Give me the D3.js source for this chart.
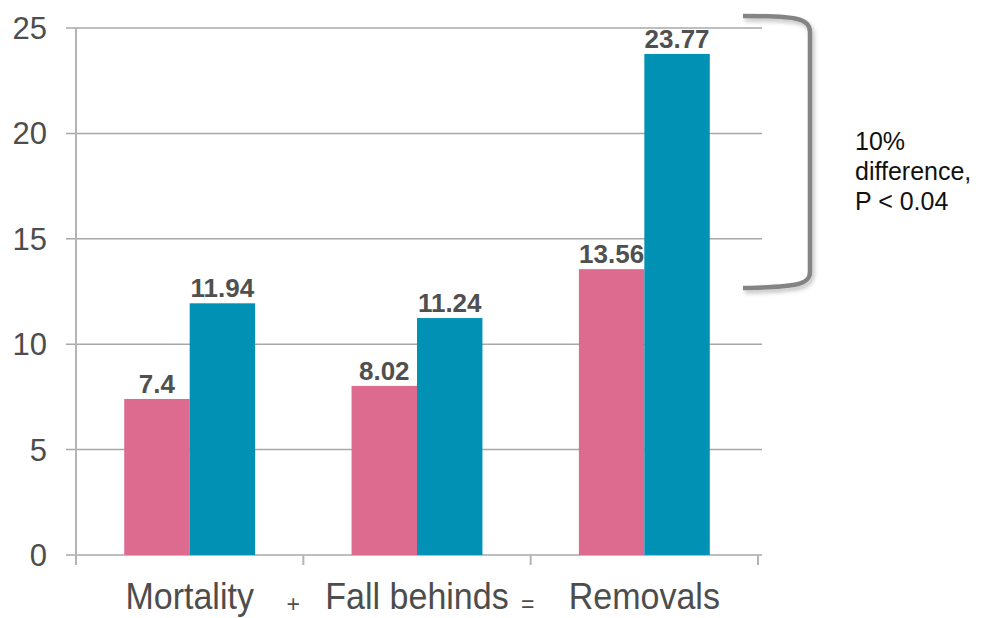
<!DOCTYPE html>
<html>
<head>
<meta charset="utf-8">
<script src="https://cdn.jsdelivr.net/npm/d3@7"></script>
<style>
  body { margin: 0; background: #fff; }
  svg { display: block; font-family: "Liberation Sans", Arial, sans-serif; }
</style>
</head>
<body>
<svg id="chart" width="982" height="618"></svg>
<script>
// data
const categories = ["Mortality", "Fall behinds", "Removals"];
const series = ["control", "treated"];
const controlValues = [7.4, 8.02, 13.56];
const treatedValues = [11.94, 11.24, 23.77];
const yTicks = [0, 5, 10, 15, 20, 25];
const joiners = ["+", "="];
const noteLines = ["10%", "difference,", "P < 0.04"];

const colors = d3.scaleOrdinal(series, ["#DD6A8F", "#0091B4"]);

const svg = d3.select("#chart");

const x0 = d3.scaleBand()
  .domain(categories)
  .range([76, 758])
  .paddingInner(0)
  .paddingOuter(0);

const x1 = d3.scaleBand()
  .domain(series)
  .range([0, x0.bandwidth()])
  .paddingInner(0)
  .paddingOuter(0.737);

const y = d3.scaleLinear()
  .domain([0, 25])
  .range([555, 28]);

// gridlines
svg.append("g")
  .selectAll("line")
  .data(yTicks)
  .enter()
  .append("line")
  .attr("x1", 66)
  .attr("x2", 762)
  .attr("y1", d => y(d))
  .attr("y2", d => y(d))
  .attr("stroke", "#a8a8a8")
  .attr("stroke-width", 1.5);

// y axis line
svg.append("line")
  .attr("x1", 76).attr("x2", 76)
  .attr("y1", y(25)).attr("y2", 564)
  .attr("stroke", "#b4b4b4")
  .attr("stroke-width", 2);

// x ticks at band edges
const edges = categories.map(c => x0(c)).concat([x0.range()[1]]);
svg.append("g")
  .selectAll("line")
  .data(edges)
  .enter()
  .append("line")
  .attr("x1", d => d).attr("x2", d => d)
  .attr("y1", y(0)).attr("y2", 565)
  .attr("stroke", "#b4b4b4")
  .attr("stroke-width", 2);

// y tick labels
svg.append("g")
  .selectAll("text")
  .data(yTicks)
  .enter()
  .append("text")
  .attr("x", 47)
  .attr("y", d => y(d) + 11)
  .attr("text-anchor", "end")
  .attr("font-size", 31)
  .attr("fill", "#4d4d4d")
  .text(d => d);

// bars
const rows = categories.map((c, i) => ({
  cat: c,
  vals: [
    { key: series[0], value: controlValues[i] },
    { key: series[1], value: treatedValues[i] }
  ]
}));

const groups = svg.append("g")
  .selectAll("g")
  .data(rows)
  .enter()
  .append("g")
  .attr("transform", d => `translate(${x0(d.cat)},0)`);

groups.selectAll("rect")
  .data(d => d.vals)
  .enter()
  .append("rect")
  .attr("x", d => x1(d.key))
  .attr("width", x1.bandwidth())
  .attr("y", d => y(d.value))
  .attr("height", d => y(0) - y(d.value))
  .attr("fill", d => colors(d.key));

groups.selectAll("text")
  .data(d => d.vals)
  .enter()
  .append("text")
  .attr("x", d => x1(d.key) + x1.bandwidth() / 2)
  .attr("y", d => y(d.value) - 6)
  .attr("text-anchor", "middle")
  .attr("font-size", 26)
  .attr("font-weight", "bold")
  .attr("fill", "#505050")
  .text(d => d.value);

// category labels
svg.append("g")
  .selectAll("text")
  .data(categories)
  .enter()
  .append("text")
  .attr("transform", d => `translate(${x0(d) + x0.bandwidth() / 2},609) scale(1,1.1)`)
  .attr("text-anchor", "middle")
  .attr("font-size", 34)
  .attr("fill", "#4d4d4d")
  .text(d => d);

// + and = between labels
const joinShift = [-10, -3];
svg.append("g")
  .selectAll("text")
  .data(joiners)
  .enter()
  .append("text")
  .attr("x", (d, i) => edges[i + 1] + joinShift[i])
  .attr("y", 612)
  .attr("text-anchor", "middle")
  .attr("font-size", 23)
  .attr("fill", "#4d4d4d")
  .text(d => d);

// bracket
const defs = svg.append("defs");
const f = defs.append("filter").attr("id", "sh").attr("x", "-20%").attr("y", "-20%").attr("width", "140%").attr("height", "140%");
f.append("feDropShadow").attr("dx", 2).attr("dy", 3).attr("stdDeviation", 2).attr("flood-color", "#000").attr("flood-opacity", 0.25);

svg.append("path")
  .attr("d", "M743,16 C795,16 810,18 810,32 L810,272 C810,285 795,287 743,288")
  .attr("fill", "none")
  .attr("stroke", "#848484")
  .attr("stroke-width", 4.5)
  .attr("filter", "url(#sh)");

// annotation
svg.append("g")
  .selectAll("text")
  .data(noteLines)
  .enter()
  .append("text")
  .attr("x", 855)
  .attr("y", (d, i) => 150 + i * 30)
  .attr("font-size", 25)
  .attr("fill", "#111")
  .text(d => d);
</script>
</body>
</html>
